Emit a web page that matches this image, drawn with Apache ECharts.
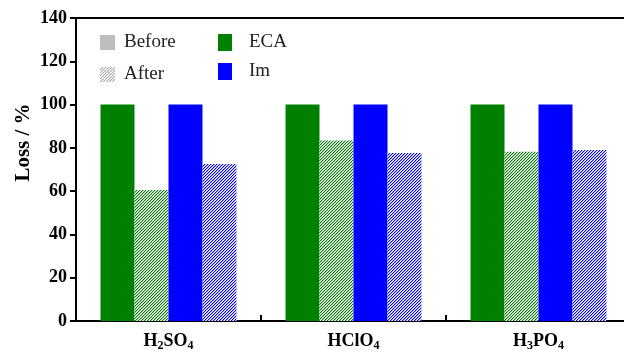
<!DOCTYPE html>
<html><head><meta charset="utf-8">
<script src="https://cdn.jsdelivr.net/npm/echarts@6/dist/echarts.min.js"></script>
<style>html,body{margin:0;padding:0;background:#fff}#c{width:624px;height:356px}</style>
</head><body><div id="c"></div>
<script>
const categories = ['H2SO4', 'HClO4', 'H3PO4'];
const ecaBefore = [100, 100, 100];
const ecaAfter = [60.5, 83.4, 78.2];
const imBefore = [100, 100, 100];
const imAfter = [72.5, 77.6, 79.0];
const yTicks = { min: 0, max: 140, interval: 20 };

const FONT = 'Liberation Serif';
const GREEN = '#008000', BLUE = '#0000ff';

function hatch(color) {
  const n = 3;
  const c = document.createElement('canvas');
  c.width = n; c.height = n;
  const g = c.getContext('2d');
  g.fillStyle = '#fff'; g.fillRect(0, 0, n, n);
  g.fillStyle = color;
  for (let i = 0; i < n; i++) g.fillRect(i, n - 1 - i, 1, 1);
  g.globalAlpha = 0.35;
  for (let i = 0; i < n; i++) g.fillRect((i + 1) % n, n - 1 - i, 1, 1);
  return { image: c, repeat: 'repeat' };
}

const chart = echarts.init(document.getElementById('c'), null, { renderer: 'canvas' });
const axisLine = { show: true, lineStyle: { color: '#000', width: 2 } };
chart.setOption({
  animation: false,
  backgroundColor: '#fff',
  grid: { left: 76, top: 18, bottom: 35, width: 555, outerBoundsMode: 'none', containLabel: false },
  legend: [
    {
      orient: 'vertical', left: 100, top: 33, padding: 0, itemWidth: 15, itemHeight: 15, itemGap: 13,
      selectedMode: false,
      textStyle: { fontFamily: FONT, fontSize: 19, color: '#222', padding: [0, 0, 0, 4] },
      data: [
        { name: 'Before', icon: 'rect', itemStyle: { color: '#bdbdbd' } },
        { name: 'After', icon: 'rect', itemStyle: { color: hatch('#a8a8a8') } }
      ]
    },
    {
      orient: 'vertical', left: 218, top: 33, padding: 0, itemWidth: 14, itemHeight: 17, itemGap: 10,
      selectedMode: false,
      textStyle: { fontFamily: FONT, fontSize: 19, color: '#222', padding: [0, 0, 0, 12] },
      data: [
        { name: 'ECA', icon: 'rect', itemStyle: { color: GREEN } },
        { name: 'Im', icon: 'rect', itemStyle: { color: BLUE } }
      ]
    }
  ],
  xAxis: [
    {
      type: 'category', data: categories, position: 'bottom',
      axisLine: axisLine,
      axisTick: { show: true, inside: true, length: 6, lineStyle: { color: '#000', width: 2 } },
      axisLabel: {
        margin: 10, fontFamily: FONT, fontSize: 18, fontWeight: 'bold', color: '#000',
        formatter: v => v.replace(/(\d)/g, '{s|$1}'),
        rich: { s: { fontFamily: FONT, fontSize: 12, fontWeight: 'bold', color: '#000', padding: [9, 0, 0, 0] } }
      },
      splitLine: { show: false }
    },
    {
      type: 'category', data: categories, position: 'top',
      axisLine: axisLine, axisTick: { show: false }, axisLabel: { show: false }
    }
  ],
  yAxis: {
    type: 'value', min: yTicks.min, max: yTicks.max, interval: yTicks.interval,
    name: 'Loss / %', nameLocation: 'middle', nameGap: 42, nameMoveOverlap: false,
    nameTextStyle: { fontFamily: FONT, fontSize: 21, fontWeight: 'bold', color: '#000', padding: [0, 0, 0, 54] },
    axisLine: axisLine,
    axisTick: { show: true, length: 6, lineStyle: { color: '#000', width: 2 } },
    axisLabel: { fontFamily: FONT, fontSize: 18, fontWeight: 'bold', color: '#000', margin: 9 },
    splitLine: { show: false }
  },
  series: [
    { name: 'ECA', type: 'bar', data: ecaBefore, barGap: '0%', barCategoryGap: '26.5%', itemStyle: { color: GREEN } },
    { name: 'ECA after', type: 'bar', data: ecaAfter, itemStyle: { color: hatch(GREEN) } },
    { name: 'Im', type: 'bar', data: imBefore, itemStyle: { color: BLUE } },
    { name: 'Im after', type: 'bar', data: imAfter, itemStyle: { color: hatch(BLUE) } },
    { name: 'Before', type: 'line', data: [] },
    { name: 'After', type: 'line', data: [] }
  ]
});
</script></body></html>
